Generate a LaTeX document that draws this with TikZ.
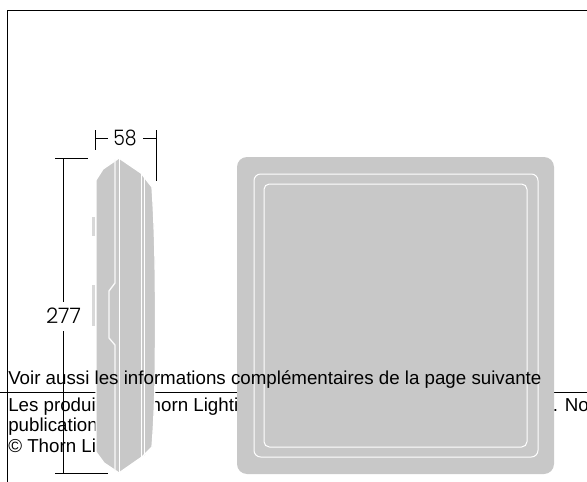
\documentclass[tikz,border=0pt]{standalone}
\usepackage{fontspec}
\setmainfont{Liberation Sans}
\newfontfamily\dimfont{Poppins Light}
\definecolor{panel}{RGB}{200,200,200}
\tikzset{
  rule/.style={draw=black,line width=0.75pt},
  dimline/.style={draw=black,line width=0.75pt},
  body/.style={anchor=base west,inner sep=0pt,font=\fontsize{14.05}{14.05}\selectfont},
  dimtext/.style={inner sep=0pt,font=\dimfont\fontsize{16}{16}\selectfont},
  seam/.style={draw=white,line width=0.75pt,line join=round},
  seamwide/.style={draw=white!90!panel,line width=1pt,line join=round}
}
\begin{document}
\begin{tikzpicture}[x=0.75pt,y=-0.75pt]
\useasboundingbox (0,0) rectangle (587,482);
\fill[white] (0,0) rectangle (587,482);
% frame and rule
\coordinate (fa) at (7.5,482);
\coordinate (fb) at (7.5,10);
\coordinate (fc) at (587,10);
\draw[rule] (fa) -- (fb) -- (fc);
\coordinate (ra) at (0,392);
\coordinate (rb) at (587,392);
\draw[rule] (ra) -- (rb);
% text behind the shapes
\node[body] (t1) at (8,411) {Les produits};
\node[body] (t2) at (139,411) {Thorn Lighting};
\node[body] (t2b) at (552.5,411) {. No};
\node[body] (t3) at (8,431) {publications};
\node[body] (t4) at (8,452) {© Thorn Lighting};
% dimensions
\coordinate (h1a) at (55,158); \coordinate (h1b) at (88,158);
\draw[dimline] (h1a) -- (h1b);
\coordinate (v1a) at (63.5,158); \coordinate (v1b) at (63.5,302);
\draw[dimline] (v1a) -- (v1b);
\coordinate (v1c) at (63.5,331); \coordinate (v1d) at (63.5,473);
\draw[dimline] (v1c) -- (v1d);
\coordinate (h2a) at (55,473.5); \coordinate (h2b) at (108,473.5);
\draw[dimline] (h2a) -- (h2b);
\node[dimtext] (d277) at (63.5,316) {277};
\coordinate (w1a) at (95,130); \coordinate (w1b) at (95,150);
\draw[dimline] (w1a) -- (w1b);
\coordinate (w1c) at (95,138); \coordinate (w1d) at (108,138);
\draw[dimline] (w1c) -- (w1d);
\coordinate (w2a) at (156,130); \coordinate (w2b) at (156,181);
\draw[dimline] (w2a) -- (w2b);
\coordinate (w2c) at (143,138); \coordinate (w2d) at (156,138);
\draw[dimline] (w2c) -- (w2d);
\node[dimtext] (d58) at (125,137.5) {\scalebox{0.88}[1]{58}};
% side view: tabs
\fill[panel!70!white] (92,217) rectangle (95,236);
\fill[panel!70!white] (92,285) rectangle (95,326);
% side view: body
\fill[panel,draw=white,line width=1pt] (119,158) -- (141,173) -- (152,187)
  .. controls (155,230) and (155.5,280) .. (155.5,316)
  .. controls (155.5,370) and (155,410) .. (152,447) -- (142,457) -- (119,473)
  -- (104,463) -- (96,452) -- (96,180) -- (103,169) -- cycle;
\draw[seamwide] (115,159.5) -- (115,283) -- (109,291) -- (109,338) -- (115,345) -- (115,470.5);
\draw[seam] (119,158) -- (119,473);
\draw[seam] (141,173) -- (141,457);
\draw[seam] (144,177) -- (144,454);
% front view
\fill[panel] (237,167) arc[start angle=180,end angle=270,radius=10] -- (544,157)
  arc[start angle=-90,end angle=0,radius=10] -- (554,464)
  arc[start angle=0,end angle=90,radius=10] -- (247,474)
  arc[start angle=90,end angle=180,radius=10] -- cycle;
\draw[seam,rounded corners=5pt] (254,174) rectangle (538,457);
\draw[seam,rounded corners=4pt] (264,184) rectangle (527,447);
% text over the shapes
\node[body] (t0) at (8,384) {Voir aussi les informations complémentaires de la page suivante};
\end{tikzpicture}
\end{document}
